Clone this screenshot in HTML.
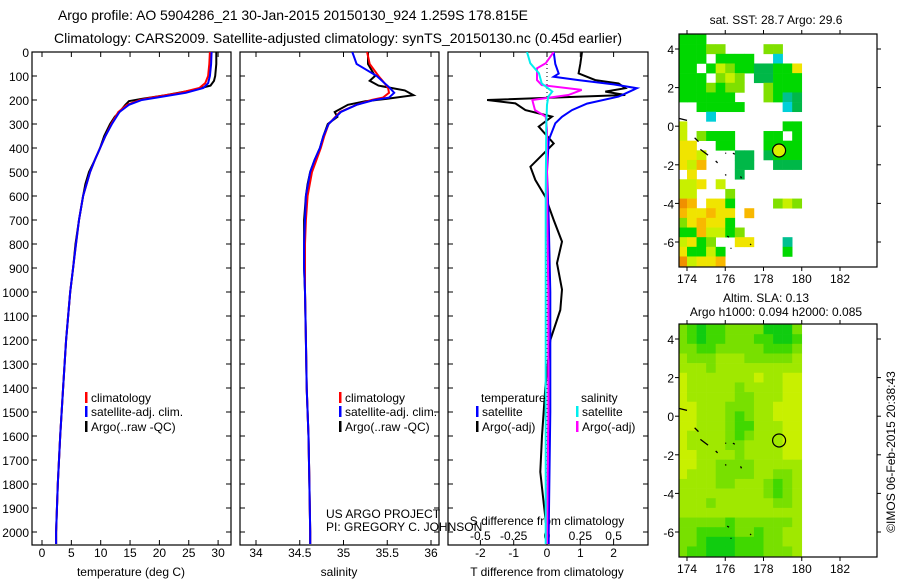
<!DOCTYPE html>
<html><head><meta charset="utf-8"><style>
body{margin:0;background:#fff;}
svg{display:block;font-family:"Liberation Sans",sans-serif;}
text{fill:#000;}
</style></head><body>
<svg id="fig" width="900" height="580" viewBox="0 0 900 580" xmlns="http://www.w3.org/2000/svg">
<text x="58" y="20" font-size="14" textLength="470">Argo profile: AO 5904286_21 30-Jan-2015 20150130_924 1.259S 178.815E</text>
<text x="54" y="43" font-size="14" textLength="568">Climatology: CARS2009. Satellite-adjusted climatology: synTS_20150130.nc (0.45d earlier)</text>
<g id="g"></g>
</svg>
<script>
// ---- profile data ----
const climDepth=[0,50,100,130,150,170,190,200,220,250,300,350,400,450,500,600,700,800,900,1000,1200,1400,1600,1800,2000,2050];
const tClim=[28.6,28.5,28.3,27.8,26.8,23.5,18.6,16.7,14.5,13.0,11.8,10.8,9.9,9.0,8.2,7.0,6.3,5.8,5.3,4.8,4.1,3.6,3.1,2.7,2.4,2.4];
const tSat=[28.9,28.8,28.6,28.3,27.5,24.5,19.5,17.0,14.8,13.2,11.9,10.8,9.9,9.0,8.2,7.0,6.3,5.8,5.3,4.8,4.1,3.6,3.1,2.7,2.4,2.4];
const argoDepth=[0,50,100,120,140,160,180,195,205,220,250,270,300,350,400,450,500,550,600,700,800,900,1000,1200,1400,1600,1800,2000,2050];
const tArgo=[29.7,29.7,29.5,29.3,28.7,25.5,21,17,14.8,14.2,13.2,12.4,11.6,10.6,9.9,9.0,8.0,7.4,7.0,6.3,5.7,5.3,4.8,4.1,3.6,3.1,2.7,2.4,2.4];
const sClim=[35.27,35.3,35.4,35.47,35.51,35.52,35.45,35.32,35.15,34.96,34.83,34.78,34.74,34.69,34.64,34.59,34.57,34.56,34.56,34.56,34.57,34.58,34.6,34.61,34.62,34.62];
const sSat=[35.1,35.15,35.38,35.47,35.53,35.58,35.52,35.35,35.15,34.97,34.83,34.77,34.73,34.67,34.62,34.57,34.56,34.55,34.55,34.56,34.57,34.58,34.6,34.61,34.62,34.62];
const sArgo=[35.28,35.28,35.36,35.3,35.4,35.7,35.8,35.5,35.25,35.05,34.9,34.93,34.82,34.77,34.73,34.67,34.62,34.59,34.57,34.55,34.55,34.55,34.56,34.57,34.58,34.6,34.61,34.62,34.62];
const dtSatDepth=[0,50,90,103,117,135,151,170,186,215,242,270,297,367,500,700,1000,1500,2000,2050];
const dtSat=[0.2,0.25,0.35,0.2,0.95,2.0,2.7,2.4,2.15,1.2,0.75,0.45,0.25,0.05,0.0,0.05,0.1,0.1,0.05,0.05];
const dtArgoDepth=[0,50,89,117,131,151,165,179,200,214,242,269,311,381,478,533,603,700,790,880,990,1075,1200,1400,1600,1750,1880,2000,2050];
const dtArgo=[1.05,1.0,0.95,1.45,2.15,2.35,1.75,2.35,-1.8,-0.95,-0.65,0.15,-0.25,0.2,-0.5,-0.35,-0.05,0.2,0.45,0.3,0.45,0.4,0.1,-0.05,-0.15,-0.2,-0.1,0,0];
const dsSatDepth=[0,47,89,131,165,186,220,300,600,1000,1500,2050];
const dsSat=[-0.15,-0.125,-0.06,-0.04,0.04,0.01,0.0,-0.005,-0.01,-0.01,-0.01,-0.01];
const dsArgoDepth=[0,47,68,117,138,158,179,200,242,269,325,600,1000,1500,2050];
const dsArgo=[0.05,-0.01,-0.075,-0.075,-0.04,0.26,0.16,-0.11,-0.09,-0.01,0.0,0.0,0.01,0.01,0.0];
const depthTicks=[0,100,200,300,400,500,600,700,800,900,1000,1100,1200,1300,1400,1500,1600,1700,1800,1900,2000];
const tTicks=[0,5,10,15,20,25,30];
const sTicks=[34,34.5,35,35.5,36];
const dTTicks=[-2,-1,0,1,2];
const dSTicks=[-0.5,-0.25,0,0.25,0.5];
// ---- map data ----
const sstRows=["ggg..........","gggll....ll..","ggg.gggg..c..","gg.gylggddggY","ggg.lyl.ddggg","ggglgll..lggg","gggggg...lgtd","..ggggg....cd","...c.........","y..........gg","y.lggg...gg.g","YY..gg...gggg","YYy...dd.dggg","Yyo...dd..ddd",".Y....d......","yyY.y........","yy...l.......","Oo.YYg....lyl","oYYoYY.o.....","lYoYYg.......","ggoyygl......","yYgl..YY...t.","Yggyg......g.","OyYYo........"];
const sstColors={g:"#00d800",d:"#00b848",l:"#80e000",y:"#c8f000",Y:"#f0e400",o:"#f8b800",O:"#f09000",c:"#00d0d8",t:"#00c090"};
const slaRows=["2343322224442","2343322233443","2233222223332","1222111222221","1112111111111","0111111101100","0111112111100","0111112211100","0011122211000","0011123211000","0011123311100","0111123211100","0111122111100","0011112111100","0011222211111","0111222211221","1111221112321","1111111112321","1112111111221","1111111111111","2222232222221","2233332232211","2234443332211","2334443332221"];
const slaColors=["#c8f000","#a0e800","#78e000","#40d800","#10cc10"];
const latTicks=[-6,-4,-2,0,2,4];
const lonTicks=[174,176,178,180,182];
const argoLon=178.815, argoLat=-1.259;

const NS="http://www.w3.org/2000/svg";
const G=document.getElementById('g');
function mk(tag,attrs,parent){const e=document.createElementNS(NS,tag);for(const k in attrs)e.setAttribute(k,attrs[k]);(parent||G).appendChild(e);return e;}
function txt(x,y,s,size,anchor,name){const t=mk('text',{x:x,y:y,'font-size':size,'text-anchor':anchor});t.textContent=s;


return t;}

const pTop=52, pBot=545, dMax=(pBot-pTop)/0.24;
const yD=d=>pTop+d*0.24;
const panels=[
 {x0:32,x1:231,name:'temperature-panel'},
 {x0:240,x1:439,name:'salinity-panel'},
 {x0:448,x1:648,name:'difference-panel'}];
const xT=v=>42+v*5.87;
const xS=v=>256+(v-34)*87.5;
const xDT=v=>547+v*33.3;
const xDS=v=>547+v*133.3;

panels.forEach((p,i)=>{
 const r=mk('rect',{x:p.x0,y:pTop,width:p.x1-p.x0,height:pBot-pTop,fill:'#fff',stroke:'#000','stroke-width':1.2});
 
 
 depthTicks.forEach(d=>{
  mk('line',{x1:p.x0,x2:p.x0+5,y1:yD(d),y2:yD(d),stroke:'#000'});
  mk('line',{x1:p.x1-5,x2:p.x1,y1:yD(d),y2:yD(d),stroke:'#000'});
 });
});
depthTicks.forEach(d=>txt(29,yD(d)+5,String(d),12,'end','depth-tick-label'));
function xticks(p,ticks,fx,ly,fmt,nm){ticks.forEach(v=>{const x=fx(v);
 mk('line',{x1:x,x2:x,y1:pBot,y2:pBot-5,stroke:'#000'});
 mk('line',{x1:x,x2:x,y1:pTop,y2:pTop+5,stroke:'#000'});
 txt(x,ly,fmt(v),12,'middle',nm);});}
xticks(panels[0],tTicks,xT,557,v=>String(v),'temperature-tick-label');
xticks(panels[1],sTicks,xS,557,v=>String(v),'salinity-tick-label');
xticks(panels[2],dTTicks,xDT,557,v=>String(v),'t-diff-tick-label');
dSTicks.forEach(v=>txt(xDS(v),540,String(v),12,'middle','s-diff-tick-label'));
txt(131,576,'temperature (deg C)',12,'middle','temperature-axis-title');
txt(339,576,'salinity',12,'middle','salinity-axis-title');
txt(547,576,'T difference from climatology',12,'middle','t-diff-axis-title');
txt(547,525,'S difference from climatology',12,'middle','s-diff-axis-title');
txt(326,518,'US ARGO PROJECT',12,'start','project-label');
txt(326,531,'PI: GREGORY C. JOHNSON',12,'start','pi-label');

const defs=mk('defs',{});
panels.forEach((p,i)=>{const c=mk('clipPath',{id:'c'+i},defs);mk('rect',{x:p.x0,y:pTop,width:p.x1-p.x0,height:pBot-pTop},c);});
function profLine(depths,vals,fx,color,name,clip){
 const pts=depths.map((d,i)=>fx(vals[i]).toFixed(1)+','+yD(Math.min(d,dMax)).toFixed(1)).join(' ');
 const pl=mk('polyline',{points:pts,fill:'none',stroke:color,'stroke-width':2,'clip-path':'url(#'+clip+')'});
 
 
}
profLine(argoDepth,tArgo,xT,'#000','temp-argo-line','c0');
profLine(climDepth,tClim,xT,'#f00','temp-climatology-line','c0');
profLine(climDepth,tSat,xT,'#00f','temp-satellite-line','c0');
profLine(argoDepth,sArgo,xS,'#000','sal-argo-line','c1');
profLine(climDepth,sClim,xS,'#f00','sal-climatology-line','c1');
profLine(climDepth,sSat,xS,'#00f','sal-satellite-line','c1');
mk('line',{x1:547,x2:547,y1:pTop,y2:pBot,stroke:'#000','stroke-dasharray':'1,3'});
profLine(dtArgoDepth,dtArgo,xDT,'#000','t-diff-argo-line','c2');
profLine(dtSatDepth,dtSat,xDT,'#00f','t-diff-satellite-line','c2');
profLine(dsArgoDepth,dsArgo,xDS,'#f0f','s-diff-argo-line','c2');
profLine(dsSatDepth,dsSat,xDS,'#0ee','s-diff-satellite-line','c2');

function legend(x,y,color,label,nm){
 const r=mk('rect',{x:x-6,y:y-10,width:2.5,height:11,fill:color});
 
 
 txt(x,y,label,12,'start',nm);}
legend(91,402,'#f00','climatology','legend-climatology');
legend(91,416,'#00f','satellite-adj. clim.','legend-satellite');
legend(91,431,'#000','Argo(..raw -QC)','legend-argo');
legend(345,402,'#f00','climatology','legend-climatology-2');
legend(345,416,'#00f','satellite-adj. clim.','legend-satellite-2');
legend(345,431,'#000','Argo(..raw -QC)','legend-argo-2');
txt(481,402,'temperature',12,'start','legend-temperature-header');
txt(581,402,'salinity',12,'start','legend-salinity-header');
legend(482,416,'#00f','satellite','legend-t-satellite');
legend(482,431,'#000','Argo(-adj)','legend-t-argo');
legend(582,416,'#0ee','satellite','legend-s-satellite');
legend(582,431,'#f0f','Argo(-adj)','legend-s-argo');

// ---- maps ----
const mx0=679,mx1=877;
const lx=lon=>687+(lon-174)*19.125;
function drawMap(y0,y1,rows,colorFn,name,latY,circFill){
 const cid='clip-'+name;
 const c=mk('clipPath',{id:cid},defs);mk('rect',{x:mx0,y:y0,width:mx1-mx0,height:y1-y0},c);
 const grp=mk('g',{'clip-path':'url(#'+cid+')'});
 
 
 rows.forEach((row,r)=>{const latTop=4.75-0.5*r;
  for(let k=0;k<row.length;k++){const col=colorFn(row[k]);if(!col)continue;
   const lonL=173.5+0.5*k;
   mk('rect',{x:lx(lonL),y:latY(latTop),width:lx(lonL+0.5)-lx(lonL)+0.3,height:latY(latTop-0.5)-latY(latTop)+0.3,fill:col},grp);}});
 [[173.6,0.4,174,0.3],[174.4,-0.6,174.6,-0.8],[174.7,-1.2,175.1,-1.5],[175.5,-1.8,175.6,-1.9],[176,-1.4,176.05,-1.4],[176.4,-1.4,176.5,-1.45],[176,-2.5,176.05,-2.55],[176.8,-2.6,176.85,-2.7],[176.1,-5.7,176.2,-5.75],[176.3,-6.3,176.3,-6.35],[177.3,-6.1,177.35,-6.15]].forEach(s=>{
  mk('line',{x1:lx(s[0]),y1:latY(s[1]),x2:lx(s[2]),y2:latY(s[3]),stroke:'#000','stroke-width':1.3},grp);});
 const fr=mk('rect',{x:mx0,y:y0,width:mx1-mx0,height:y1-y0,fill:'none',stroke:'#000','stroke-width':1.2});
 
 
 latTicks.forEach(v=>{const y=latY(v);
  mk('line',{x1:mx0,x2:mx0-4,y1:y,y2:y,stroke:'#000'});mk('line',{x1:mx1,x2:mx1+4,y1:y,y2:y,stroke:'#000'});
  txt(674,y+5,String(v),12,'end',name+'-lat-label');});
 lonTicks.forEach(v=>{const x=lx(v);
  mk('line',{x1:x,x2:x,y1:y0,y2:y0-4,stroke:'#000'});mk('line',{x1:x,x2:x,y1:y1,y2:y1+4,stroke:'#000'});
  txt(x,y1+16,String(v),12,'middle',name+'-lon-label');});
 const ci=mk('circle',{cx:lx(argoLon),cy:latY(argoLat),r:6.5,fill:circFill,stroke:'#000','stroke-width':1.2});
 
 
}
const latY1=lat=>49+(4-lat)*19.3;
const latY2=lat=>339+(4-lat)*19.3;
drawMap(34,267,sstRows,ch=>sstColors[ch],'sst-map',latY1,'#d8f000');
drawMap(324,557,slaRows,ch=>slaColors[+ch],'sla-map',latY2,'none');
txt(776,24,'sat. SST: 28.7 Argo: 29.6',12,'middle','sst-map-title');
txt(766,302,'Altim. SLA: 0.13',12,'middle','sla-map-title');
txt(776,316,'Argo h1000: 0.094 h2000: 0.085',12,'middle','sla-map-subtitle');
const cr=txt(0,0,'©IMOS 06-Feb-2015 20:38:43',12,'middle','imos-credit');
cr.setAttribute('transform','translate(895,452) rotate(-90)');
</script>
</body></html>
